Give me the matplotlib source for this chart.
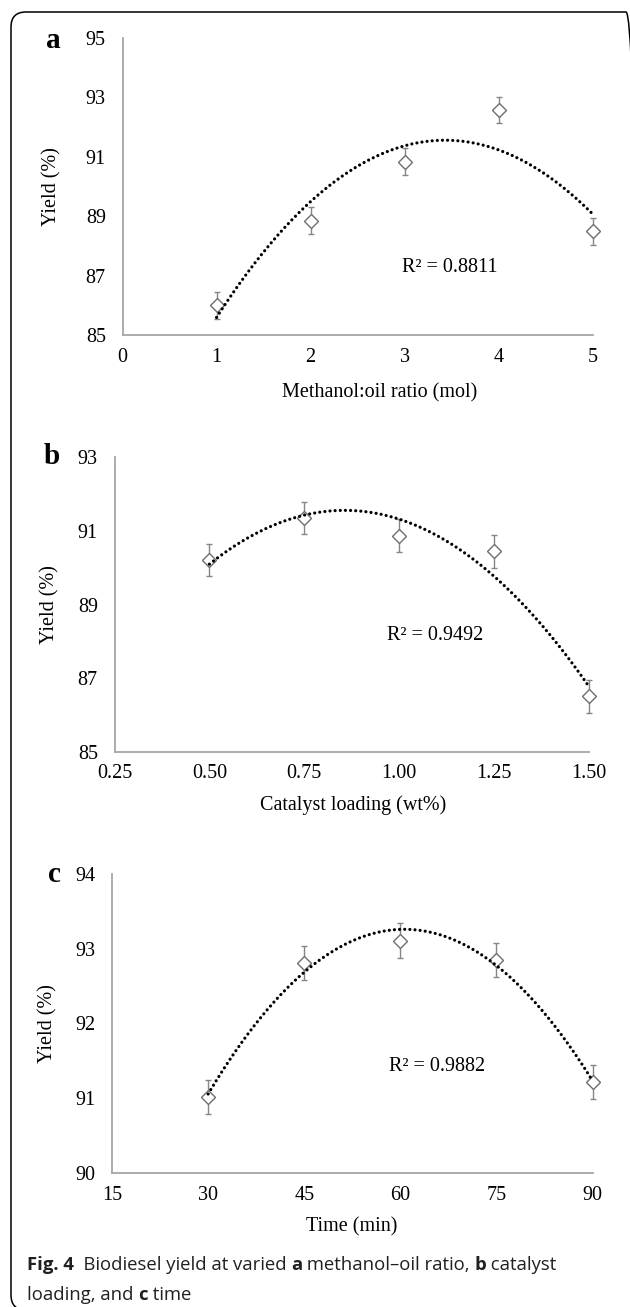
import matplotlib
matplotlib.use('Agg')
import matplotlib.pyplot as plt
import numpy as np
from matplotlib.patches import FancyBboxPatch

plt.rcParams['font.family'] = 'serif'
plt.rcParams['font.serif'] = ['Liberation Serif', 'DejaVu Serif']

# (a) methanol:oil ratio
ratio = [1, 2, 3, 4, 5]
yield_a = [86.0, 88.85, 90.84, 92.58, 88.49]
err_a = [0.45, 0.45, 0.45, 0.45, 0.45]
# (b) catalyst loading
catalyst = [0.50, 0.75, 1.00, 1.25, 1.50]
yield_b = [90.21, 91.34, 90.87, 90.44, 86.51]
err_b = [0.44, 0.44, 0.44, 0.44, 0.44]
# (c) reaction time
time_min = [30, 45, 60, 75, 90]
yield_c = [91.02, 92.81, 93.11, 92.85, 91.22]
err_c = [0.23, 0.23, 0.23, 0.23, 0.23]

r2_labels = ['R² = 0.8811', 'R² = 0.9492', 'R² = 0.9882']
x_labels = ['Methanol:oil ratio (mol)', 'Catalyst loading (wt%)', 'Time (min)']
x_ticks = [[0, 1, 2, 3, 4, 5],
           [0.25, 0.50, 0.75, 1.00, 1.25, 1.50],
           [15, 30, 45, 60, 75, 90]]
x_ticklabels = [['0', '1', '2', '3', '4', '5'],
                ['0.25', '0.50', '0.75', '1.00', '1.25', '1.50'],
                ['15', '30', '45', '60', '75', '90']]
y_ticks = [[85, 87, 89, 91, 93, 95], [85, 87, 89, 91, 93], [90, 91, 92, 93, 94]]
panel_names = ['a', 'b', 'c']

W, H = 630, 1307
fig = plt.figure(figsize=(W / 100, H / 100), dpi=100)

# axes boxes in pixels: left, right, top, bottom
boxes = [(122.5, 592.6, 38, 335), (114.5, 589, 457, 752), (112, 592.6, 874, 1173)]
r2_pos = [(3.48, 87.26), (1.094, 88.17), (65.7, 91.43)]
xlab_y = [393, 805, 1227]
xlab_x = [380, 353, 352]
ylab_x = [52, 50, 48]
lab_pos = [(53, 40), (52, 457), (54, 874)]

data = [(ratio, yield_a, err_a), (catalyst, yield_b, err_b), (time_min, yield_c, err_c)]

for i, ((x, y, e), (l, r, t, b)) in enumerate(zip(data, boxes)):
    ax = fig.add_axes([l / W, 1 - b / H, (r - l) / W, (b - t) / H])
    ax.errorbar(x, y, yerr=e, fmt='none', ecolor='#858585', elinewidth=1.0,
                capsize=2.5, capthick=1.0, clip_on=False, zorder=2)
    ax.plot(x, y, 'D', ms=7.5, mfc='white', mec='#6e6e6e', mew=1.0, clip_on=False, zorder=3)
    coef = np.polyfit(x, y, 2)
    xs = np.linspace(x[0], x[-1], 300)
    ax.plot(xs, np.polyval(coef, xs), color='black', lw=2.3, linestyle=(0, (0.01, 1.6)),
            dash_capstyle='round', clip_on=False, zorder=4)
    ax.text(r2_pos[i][0], r2_pos[i][1], r2_labels[i], ha='center', va='center', fontsize=14.5)

    ax.set_xlim(x_ticks[i][0], x_ticks[i][-1])
    ax.set_ylim(y_ticks[i][0], y_ticks[i][-1])
    ax.set_xticks(x_ticks[i])
    ax.set_xticklabels(x_ticklabels[i])
    ax.set_yticks(y_ticks[i])
    ax.tick_params(length=0, labelsize=14.5)
    ax.tick_params(axis='y', pad=12)
    ax.tick_params(axis='x', pad=9)
    for lbl in ax.get_xticklabels() + ax.get_yticklabels():
        lbl.set_family('Liberation Serif')
    for s in ['top', 'right']:
        ax.spines[s].set_visible(False)
    for s in ['left', 'bottom']:
        ax.spines[s].set_color('#a6a6a6')
        ax.spines[s].set_linewidth(1.3)

    ax.set_xlabel(x_labels[i], fontsize=14.5)
    ax.xaxis.label.set_va('center')
    ax.xaxis.set_label_coords((xlab_x[i] - l) / (r - l), (b - xlab_y[i]) / (b - t))
    ax.set_ylabel('Yield (%)', fontsize=14.5)
    ax.yaxis.label.set_va('center')
    ax.yaxis.set_label_coords((ylab_x[i] - l) / (r - l), 0.5)

    fig.text(lab_pos[i][0] / W, 1 - lab_pos[i][1] / H, panel_names[i], fontsize=21,
             fontweight='bold', ha='center', va='center')

# rounded frame
frame = FancyBboxPatch((0.11, -0.03), 6.30, 13.07 - 0.12 + 0.03,
                       boxstyle='round,pad=0,rounding_size=0.15',
                       transform=fig.dpi_scale_trans, fill=False, ec='black', lw=1.1)
fig.add_artist(frame)

# caption with bold runs
cap_lines = [
    [('Fig. 4', 'bold'), ('  Biodiesel yield at varied ', 'normal'), ('a', 'bold'),
     (' methanol–oil ratio, ', 'normal'), ('b', 'bold'), (' catalyst', 'normal')],
    [('loading, and ', 'normal'), ('c', 'bold'), (' time', 'normal')],
]
cap_base = [1270, 1300]
fig.canvas.draw()
rend = fig.canvas.get_renderer()
for runs, yb in zip(cap_lines, cap_base):
    xp = 27
    for txt, wt in runs:
        tt = fig.text(xp / W, 1 - yb / H, txt, fontsize=13.3, fontweight=wt,
                      family='Open Sans', ha='left', va='baseline', color='#231f20')
        xp += tt.get_window_extent(rend).width

fig.savefig('out.png', dpi=100)
